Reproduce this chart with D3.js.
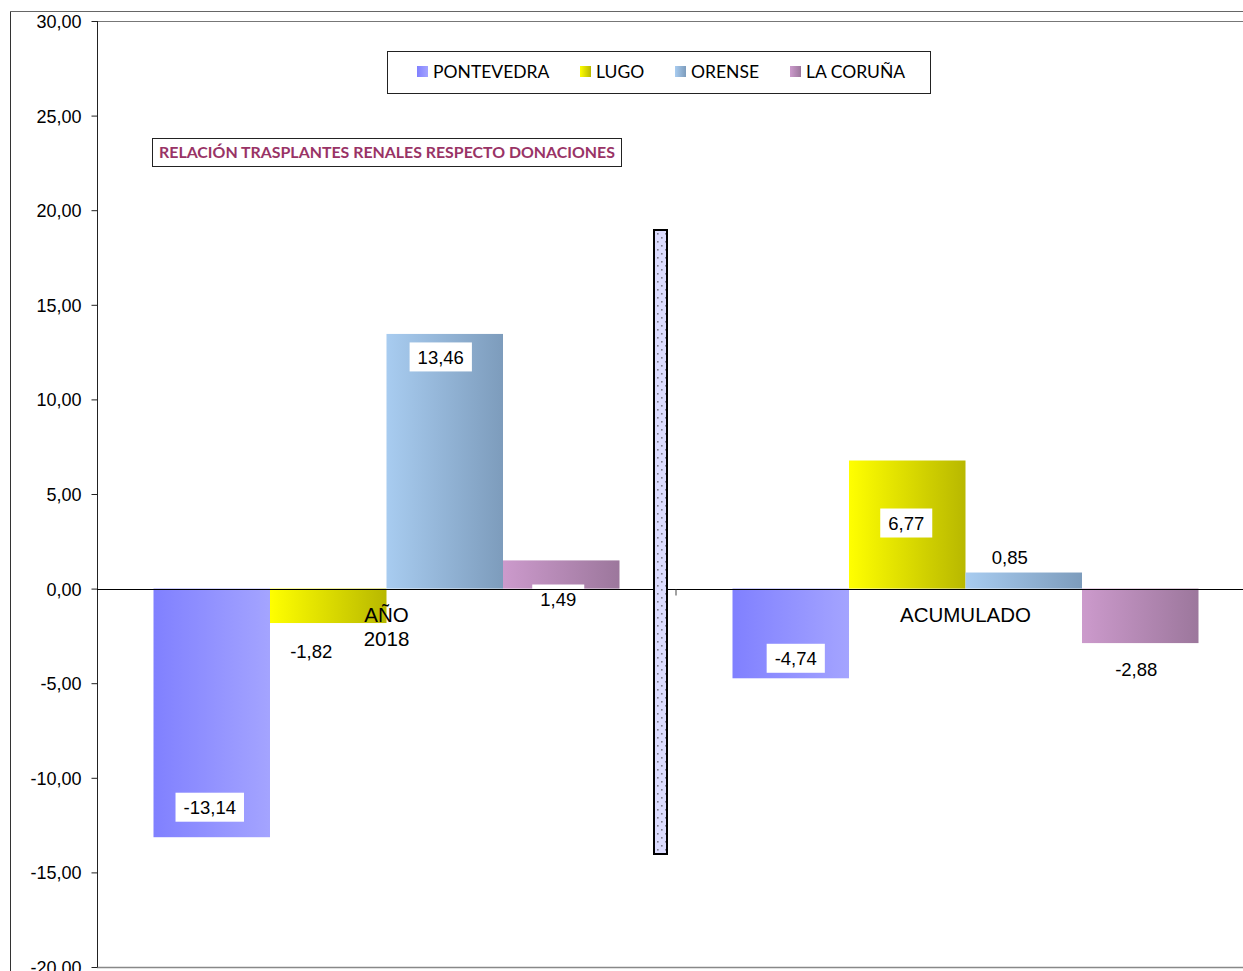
<!DOCTYPE html>
<html lang="es">
<head>
    <meta charset="UTF-8">
    <title>Relación trasplantes renales respecto donaciones</title>
    <style>
        body { margin: 0; background: #fff; }
        .tick-label { font-family: "Liberation Sans", Arial, sans-serif; font-size: 18px; fill: #000; }
        .cat-label { font-family: "Liberation Sans", Arial, sans-serif; font-size: 20.5px; fill: #000; text-anchor: middle; }
        .val-label { font-family: "Liberation Sans", Arial, sans-serif; font-size: 18.5px; fill: #000; text-anchor: middle; }
        .legend-text { font-family: Lato, "Open Sans", sans-serif; font-size: 17.5px; fill: #000; }
        .title-text { font-family: Lato, "Open Sans", sans-serif; font-size: 15.9px; font-weight: bold; fill: #993366; }
    </style>
</head>
<body>
<div id="chart"></div>
<script src="https://cdn.jsdelivr.net/npm/d3@7"></script>
<script>
    // data
    const categories = ["AÑO\n2018", "ACUMULADO"];
    const provinces = ["PONTEVEDRA", "LUGO", "ORENSE", "LA CORUÑA"];
    const anio2018 = [-13.14, -1.82, 13.46, 1.49];
    const acumulado = [-4.74, 6.77, 0.85, -2.88];
    const yTicks = [-20, -15, -10, -5, 0, 5, 10, 15, 20, 25, 30];
    const titleText = "RELACIÓN TRASPLANTES RENALES RESPECTO DONACIONES";

    const W = 1243, H = 971;
    const plot = {left: 97, right: 1255, top: 21, bottom: 967};

    // colours: [left, right] of each horizontal gradient
    const grads = [["#8080ff", "#a4a4ff"], ["#ffff00", "#b8b800"], ["#a8ccf0", "#7d9cbc"], ["#cc9acc", "#9c779c"]];

    // label nudges in px: [dx, dy] measured from the bar end (dy > 0 = downwards)
    const nudges = [
        [[-2, -30], [-17, 28], [-4, 23], [-3, 38.6]],
        [[5, -20], [-1, 62.5], [-14, -15.5], [-4, 26]]
    ];

    const svg = d3.select("#chart").append("svg")
        .attr("width", W)
        .attr("height", H);

    const defs = svg.append("defs");
    grads.forEach((g, i) => {
        const lg = defs.append("linearGradient")
            .attr("id", "grad" + i)
            .attr("x1", "0%").attr("x2", "100%")
            .attr("y1", "0%").attr("y2", "0%");
        lg.append("stop").attr("offset", "0%").attr("stop-color", g[0]);
        lg.append("stop").attr("offset", "100%").attr("stop-color", g[1]);
    });
    const pat = defs.append("pattern")
        .attr("id", "dots")
        .attr("patternUnits", "userSpaceOnUse")
        .attr("width", 8).attr("height", 8);
    pat.append("rect").attr("width", 8).attr("height", 8).attr("fill", "#dcdcff");
    pat.append("rect").attr("x", 1).attr("y", 1).attr("width", 1.6).attr("height", 1.6).attr("fill", "#7a7a8a");
    pat.append("rect").attr("x", 5).attr("y", 5).attr("width", 1.6).attr("height", 1.6).attr("fill", "#7a7a8a");

    // chart area frame
    svg.append("line").attr("x1", 10.5).attr("x2", 10.5).attr("y1", 11).attr("y2", H)
        .attr("stroke", "#333").attr("stroke-width", 1);
    svg.append("line").attr("x1", 10).attr("x2", W).attr("y1", 11.5).attr("y2", 11.5)
        .attr("stroke", "#666").attr("stroke-width", 1);

    const y = d3.scaleLinear().domain([-20, 30]).range([plot.bottom, plot.top]);
    const x0 = d3.scaleBand().domain(categories).range([plot.left, plot.right]);
    const x1 = d3.scaleBand().domain(provinces)
        .range([56.5, x0.bandwidth() - 56.5]);

    // plot area border
    svg.append("line").attr("x1", plot.left).attr("x2", W).attr("y1", plot.top + 0.5).attr("y2", plot.top + 0.5)
        .attr("stroke", "#777");
    svg.append("line").attr("x1", plot.left).attr("x2", W).attr("y1", plot.bottom + 0.5).attr("y2", plot.bottom + 0.5)
        .attr("stroke", "#888").attr("stroke-width", 1.5);

    // y axis
    const yAxis = svg.append("g")
        .attr("transform", `translate(${plot.left + 0.5},0)`)
        .call(d3.axisLeft(y).tickValues(yTicks).tickSize(6).tickPadding(10)
            .tickFormat(d => d.toFixed(2).replace(".", ",")));
    yAxis.select(".domain").attr("stroke", "#222").attr("d", `M0,${plot.top}V${plot.bottom}`);
    yAxis.selectAll(".tick line").attr("stroke", "#222");
    yAxis.selectAll(".tick text").attr("class", "tick-label").attr("dy", "0.36em");
    yAxis.attr("font-family", null).attr("font-size", null);

    // bars
    const series = [anio2018, acumulado];
    const groups = svg.selectAll("g.cat")
        .data(categories)
        .enter()
        .append("g")
        .attr("class", "cat")
        .attr("transform", d => `translate(${x0(d)},0)`);

    groups.selectAll("rect.bar")
        .data((c, ci) => series[ci].map((v, i) => ({v: v, i: i, ci: ci})))
        .enter()
        .append("rect")
        .attr("class", "bar")
        .attr("x", d => x1(provinces[d.i]))
        .attr("width", x1.bandwidth())
        .attr("y", d => Math.min(y(d.v), y(0)))
        .attr("height", d => Math.abs(y(d.v) - y(0)))
        .attr("fill", d => `url(#grad${d.i})`);

    // zero line and category tick
    const y0 = Math.round(y(0)) + 0.5;
    svg.append("line").attr("x1", plot.left).attr("x2", W).attr("y1", y0).attr("y2", y0)
        .attr("stroke", "#000").attr("stroke-width", 1);
    svg.append("line")
        .attr("x1", x0(categories[1])).attr("x2", x0(categories[1]))
        .attr("y1", y0).attr("y2", y0 + 6)
        .attr("stroke", "#444");

    // category labels
    groups.append("text")
        .attr("class", "cat-label")
        .attr("x", x0.bandwidth() / 2)
        .attr("y", y0 + 32)
        .selectAll("tspan")
        .data(d => d.split("\n"))
        .enter()
        .append("tspan")
        .attr("x", x0.bandwidth() / 2)
        .attr("dy", (d, i) => i === 0 ? 0 : 24)
        .text(d => d);

    // value labels
    const labels = groups.selectAll("g.val")
        .data((c, ci) => series[ci].map((v, i) => ({v: v, i: i, ci: ci})))
        .enter()
        .append("g")
        .attr("class", "val")
        .attr("transform", d => {
            const n = nudges[d.ci][d.i];
            const cx = x1(provinces[d.i]) + x1.bandwidth() / 2 + n[0];
            return `translate(${cx},${y(d.v) + n[1]})`;
        });
    const boxes = labels.append("rect")
        .attr("y", -14.5)
        .attr("height", 29)
        .attr("fill", "#fff");
    labels.append("text")
        .attr("class", "val-label")
        .attr("dy", "0.36em")
        .text(d => d.v.toFixed(2).replace(".", ","));
    labels.each(function () {
        const w = d3.select(this).select("text").node().getComputedTextLength() + 16;
        d3.select(this).select("rect").attr("x", -w / 2).attr("width", w);
    });

    // divider between groups
    svg.append("rect")
        .attr("x", 654).attr("y", 230)
        .attr("width", 13).attr("height", 624)
        .attr("fill", "url(#dots)")
        .attr("stroke", "#000").attr("stroke-width", 2);

    // legend
    const legend = svg.append("g");
    legend.append("rect")
        .attr("x", 387.5).attr("y", 51.5).attr("width", 543).attr("height", 42)
        .attr("fill", "#fff").attr("stroke", "#222");
    const legendX = [417, 580, 675, 790];
    const li = legend.selectAll("g.item")
        .data(provinces)
        .enter()
        .append("g")
        .attr("transform", (d, i) => `translate(${legendX[i]},66)`);
    li.append("rect").attr("width", 11).attr("height", 11)
        .attr("fill", (d, i) => `url(#grad${i})`);
    li.append("text").attr("class", "legend-text")
        .attr("x", 16).attr("y", 12)
        .text(d => d);

    // title box
    svg.append("rect")
        .attr("x", 152.5).attr("y", 138.5).attr("width", 469).attr("height", 28)
        .attr("fill", "#fff").attr("stroke", "#222");
    svg.append("text").attr("class", "title-text")
        .attr("x", 387).attr("y", 158)
        .attr("text-anchor", "middle")
        .text(titleText);
</script>
</body>
</html>
